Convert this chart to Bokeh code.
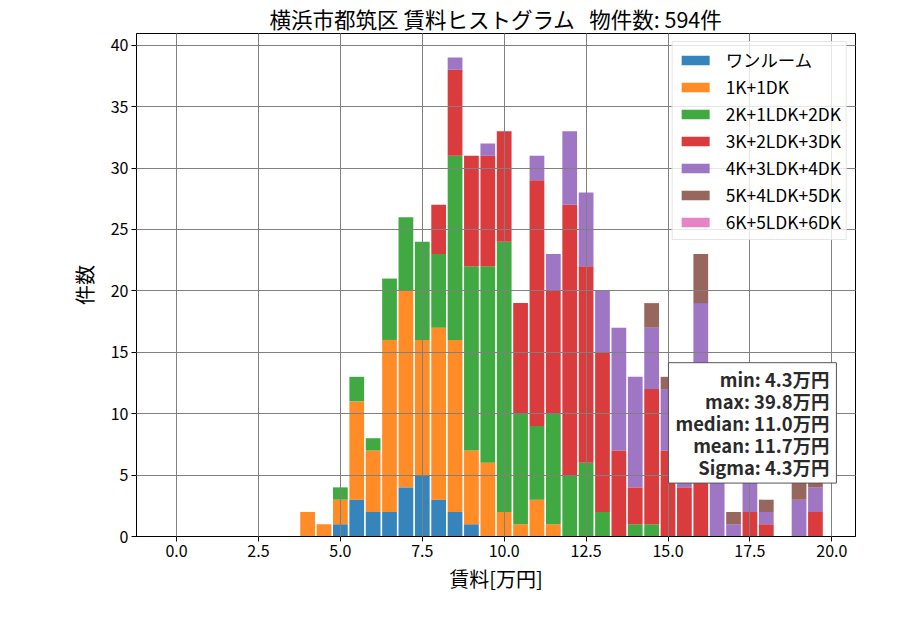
from bokeh.plotting import figure
from bokeh.models import Range1d, FixedTicker, PrintfTickFormatter, Label, ColumnDataSource
from bokeh.embed import file_html
from bokeh.resources import INLINE

title_text = "横浜市都筑区 賃料ヒストグラム \u00a0 物件数: 594件"
x_label = "賃料[万円]"
y_label = "件数"

categories = ["ワンルーム", "1K+1DK", "2K+1LDK+2DK", "3K+2LDK+3DK",
              "4K+3LDK+4DK", "5K+4LDK+5DK", "6K+5LDK+6DK"]
colors = ["#1f77b4", "#ff7f0e", "#2ca02c", "#d62728", "#9467bd", "#8c564b", "#e377c2"]

bin_centers = [0.0, 0.5, 1.0, 1.5, 2.0, 2.5, 3.0, 3.5, 4.0, 4.5,
               5.0, 5.5, 6.0, 6.5, 7.0, 7.5, 8.0, 8.5, 9.0, 9.5,
               10.0, 10.5, 11.0, 11.5, 12.0, 12.5, 13.0, 13.5, 14.0, 14.5,
               15.0, 15.5, 16.0, 16.5, 17.0, 17.5, 18.0, 18.5, 19.0, 19.5]

one_room = [0, 0, 0, 0, 0, 0, 0, 0, 0, 0,
            1, 3, 2, 2, 4, 5, 3, 2, 1, 0,
            0, 0, 0, 0, 0, 0, 0, 0, 0, 0,
            0, 0, 0, 0, 0, 0, 0, 0, 0, 0]
k1 = [0, 0, 0, 0, 0, 0, 0, 0, 2, 1,
      2, 8, 5, 14, 16, 11, 14, 14, 6, 6,
      2, 1, 3, 1, 0, 0, 0, 0, 0, 0,
      0, 0, 0, 0, 0, 0, 0, 0, 0, 0]
k2 = [0, 0, 0, 0, 0, 0, 0, 0, 0, 0,
      1, 2, 1, 5, 6, 8, 6, 15, 15, 16,
      22, 9, 6, 9, 5, 6, 2, 0, 1, 1,
      0, 0, 0, 0, 0, 0, 0, 0, 0, 0]
k3 = [0, 0, 0, 0, 0, 0, 0, 0, 0, 0,
      0, 0, 0, 0, 0, 0, 4, 7, 9, 9,
      9, 9, 20, 10, 22, 16, 13, 7, 3, 11,
      7, 4, 9, 0, 0, 2, 1, 0, 0, 2]
k4 = [0, 0, 0, 0, 0, 0, 0, 0, 0, 0,
      0, 0, 0, 0, 0, 0, 0, 1, 0, 1,
      0, 0, 2, 3, 6, 6, 5, 10, 9, 5,
      5, 5, 10, 7, 1, 4, 1, 0, 3, 2]
k5 = [0, 0, 0, 0, 0, 0, 0, 0, 0, 0,
      0, 0, 0, 0, 0, 0, 0, 0, 0, 0,
      0, 0, 0, 0, 0, 0, 0, 0, 0, 2,
      1, 0, 4, 0, 1, 0, 1, 0, 2, 1]
k6 = [0, 0, 0, 0, 0, 0, 0, 0, 0, 0,
      0, 0, 0, 0, 0, 0, 0, 0, 0, 0,
      0, 0, 0, 0, 0, 0, 0, 0, 0, 0,
      0, 0, 0, 0, 0, 0, 0, 0, 0, 0]

stats_lines = ["min: 4.3万円", "max: 39.8万円", "median: 11.0万円",
               "mean: 11.7万円", "Sigma: 4.3万円"]

x_ticks = [0.0, 2.5, 5.0, 7.5, 10.0, 12.5, 15.0, 17.5, 20.0]
y_ticks = [0, 5, 10, 15, 20, 25, 30, 35, 40]

FONT = "Noto Sans CJK JP"

series = [one_room, k1, k2, k3, k4, k5, k6]
keys = ["c%d" % i for i in range(len(series))]
data = {"x": bin_centers}
for k, s in zip(keys, series):
    data[k] = s
source = ColumnDataSource(data)

p = figure(width=900, height=630, output_backend="svg", toolbar_location=None,
           x_range=Range1d(-1.2225, 20.7225), y_range=Range1d(0, 40.95),
           min_border_left=136, min_border_right=45, min_border_top=32,
           min_border_bottom=94)

p.vbar_stack(keys, x="x", width=0.45, color=colors, source=source,
             fill_alpha=0.9, line_alpha=0, legend_label=categories)

p.title.text = title_text
p.title.align = "center"
p.title.text_font = FONT
p.title.text_font_size = "21.5px"
p.title.text_font_style = "normal"
p.title.text_color = "black"
p.title.standoff = 0

for ax in (p.xaxis, p.yaxis):
    ax.axis_label_text_font = FONT
    ax.axis_label_text_font_size = "20px"
    ax.axis_label_text_font_style = "normal"
    ax.axis_label_text_color = "black"
    ax.major_label_text_font = FONT
    ax.major_label_text_font_size = "16px"
    ax.major_label_text_color = "black"
    ax.axis_line_color = "black"
    ax.major_tick_line_color = "black"
    ax.minor_tick_line_color = None
    ax.major_tick_out = 5
    ax.major_tick_in = 0
    ax.major_label_standoff = 3

p.xaxis.axis_label = x_label
p.yaxis.axis_label = y_label
p.xaxis.ticker = FixedTicker(ticks=x_ticks)
p.yaxis.ticker = FixedTicker(ticks=y_ticks)
p.xaxis.formatter = PrintfTickFormatter(format="%.1f")
p.yaxis.formatter = PrintfTickFormatter(format="%d")
p.yaxis.axis_label_standoff = 9
p.xaxis.axis_label_standoff = 4

p.xgrid.ticker = FixedTicker(ticks=x_ticks)
p.ygrid.ticker = FixedTicker(ticks=y_ticks)
for g in (p.xgrid, p.ygrid):
    g.grid_line_color = "#808080"
    g.grid_line_width = 1
    g.level = "guide"

p.outline_line_color = "black"
p.outline_line_width = 1
p.outline_line_alpha = 1
p.background_fill_color = "white"
p.border_fill_color = "white"

lg = p.legend[0]
lg.location = "top_right"
lg.margin = 8
lg.padding = 5
lg.spacing = 2
lg.label_height = 20
lg.glyph_height = 12
lg.glyph_width = 35
lg.label_standoff = 13
lg.label_text_font = FONT
lg.label_text_font_size = "17.4px"
lg.label_text_color = "black"
lg.border_line_color = "#cccccc"
lg.border_line_width = 1
lg.background_fill_alpha = 0.8

stats = Label(x=20.14, y=14.15, text="\n".join(stats_lines),
              text_align="right", text_baseline="top",
              text_font=FONT, text_font_size="18.4px", text_font_style="bold",
              text_color="#2a2a2a", text_line_height=0.85,
              background_fill_color="white", background_fill_alpha=1.0,
              border_line_color="#555555", border_line_width=1,
              padding=dict(left=7, right=7, top=3, bottom=3))
p.add_layout(stats)

open("out.html", "w").write(file_html(p, INLINE))
